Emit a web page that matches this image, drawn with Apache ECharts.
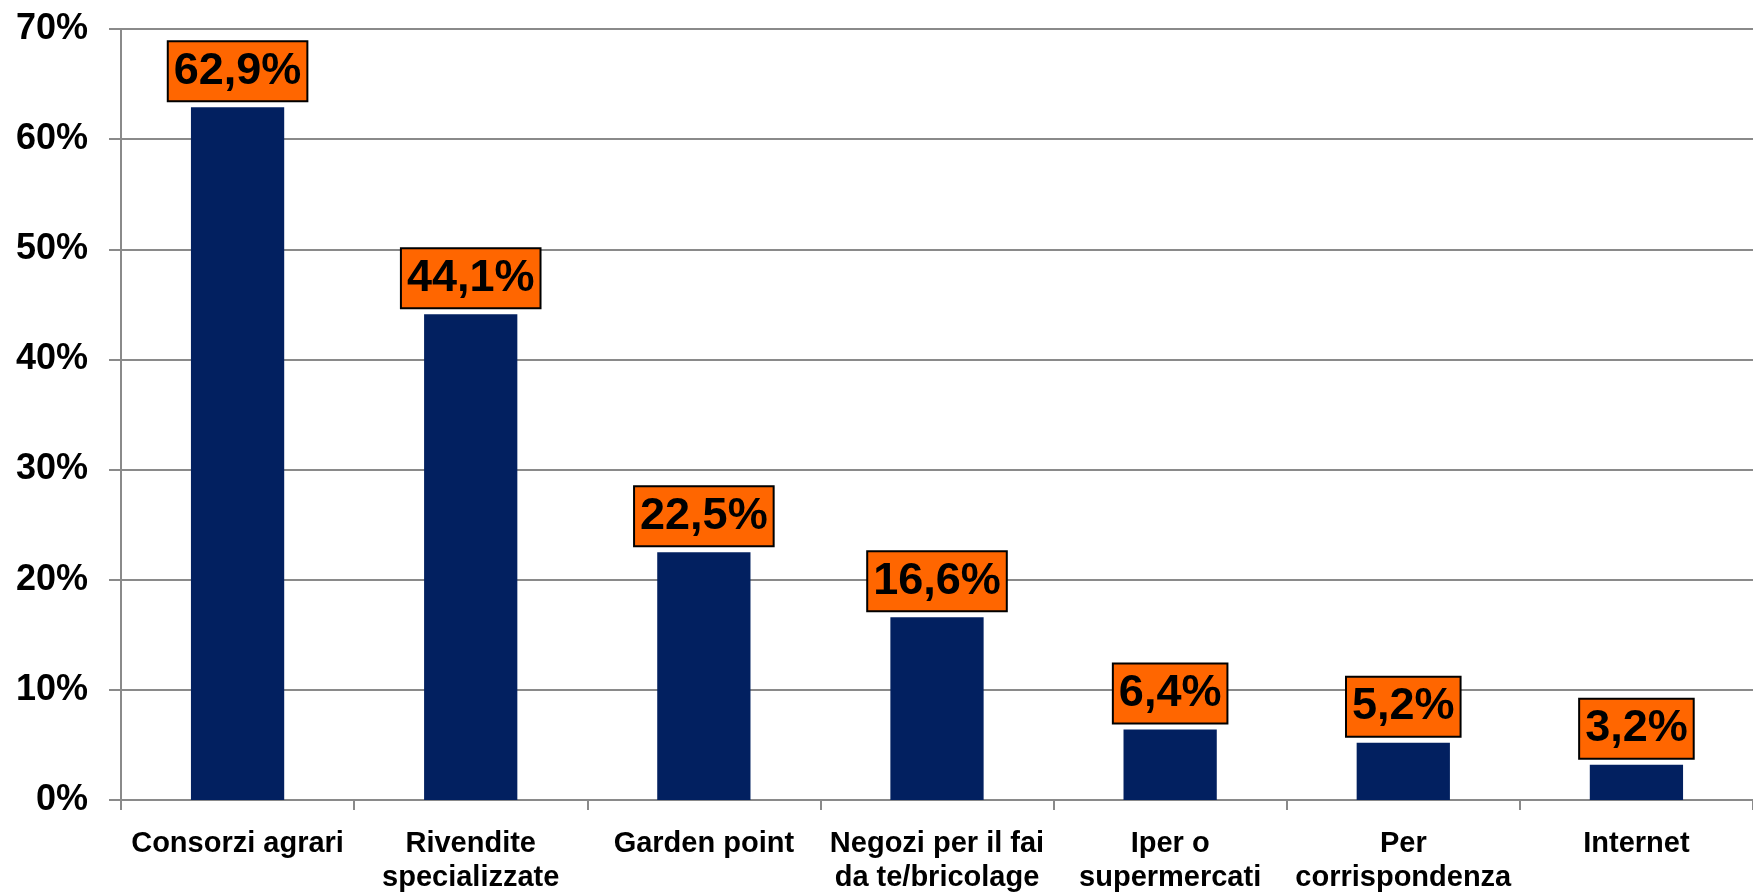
<!DOCTYPE html>
<html><head><meta charset="utf-8">
<script src="https://cdn.jsdelivr.net/npm/echarts@6/dist/echarts.min.js"></script>
<style>html,body{margin:0;padding:0;background:#fff}#c{width:1753px;height:895px}</style>
</head><body><div id="c"></div>
<script>
const categories = ['Consorzi agrari','Rivendite\nspecializzate','Garden point','Negozi per il fai\nda te/bricolage','Iper o\nsupermercati','Per\ncorrispondenza','Internet'];
const values = [62.9, 44.1, 22.5, 16.6, 6.4, 5.2, 3.2];
const yTicks = [0, 10, 20, 30, 40, 50, 60, 70];

const chart = echarts.init(document.getElementById('c'));
chart.setOption({
  animation: false,
  grid: {left: 121, top: 29, bottom: 92, width: 1638},
  xAxis: {
    type: 'category', data: categories,
    axisLine: {lineStyle: {color: '#8a8a8a', width: 2}},
    axisTick: {show: true, length: 10, lineStyle: {color: '#8a8a8a', width: 2}},
    axisLabel: {color: '#000', fontFamily: 'Liberation Sans, Arial', fontWeight: 'bold', fontSize: 29, lineHeight: 34, margin: 27, interval: 0}
  },
  yAxis: {
    type: 'value', min: yTicks[0], max: yTicks[yTicks.length-1], interval: 10,
    axisLine: {show: true, lineStyle: {color: '#8a8a8a', width: 2}},
    axisTick: {show: true, length: 12, lineStyle: {color: '#8a8a8a', width: 2}},
    splitLine: {lineStyle: {color: '#8a8a8a', width: 2}},
    axisLabel: {color: '#000', fontFamily: 'Liberation Sans, Arial', fontWeight: 'bold', fontSize: 36, margin: 33, formatter: v => v + '%'}
  },
  series: [{
    type: 'bar', data: values, barWidth: '40%',
    itemStyle: {color: '#022060'},
    label: {
      show: true, position: 'top', distance: 7,
      formatter: p => p.value.toFixed(1).replace('.', ',') + '%',
      color: '#000', fontFamily: 'Liberation Sans, Arial', fontWeight: 'bold', fontSize: 45, lineHeight: 50,
      backgroundColor: '#FF6600', borderColor: '#000', borderWidth: 2, padding: [4, 5]
    }
  }]
});
</script></body></html>
